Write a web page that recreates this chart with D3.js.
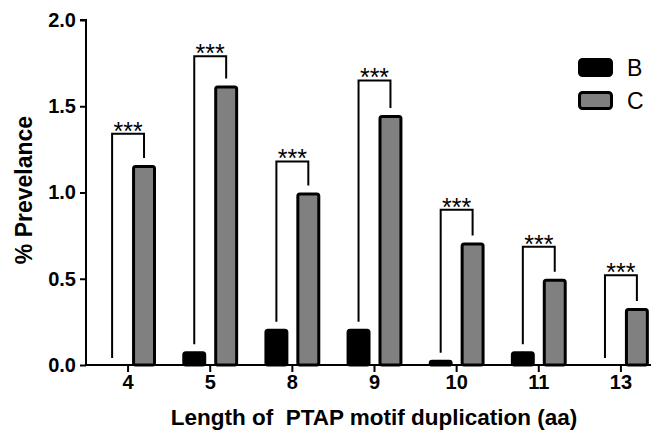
<!DOCTYPE html>
<html>
<head>
<meta charset="utf-8">
<style>
    body { margin: 0; background: #fff; }
    svg { display: block; font-family: "Liberation Sans", Arial, sans-serif; }
</style>
</head>
<body>
<svg width="651" height="430"></svg>

<script src="https://d3js.org/d3.v7.min.js"></script>
<script>
    // values
    const lengths = ["4", "5", "8", "9", "10", "11", "13"];
    const seriesNames = ["B", "C"];
    const valuesB = [0, 0.08, 0.21, 0.21, 0.03, 0.08, 0];
    const valuesC = [1.16, 1.62, 1.00, 1.45, 0.71, 0.50, 0.33];
    const bracketTops = [1.34, 1.79, 1.18, 1.65, 0.90, 0.685, 0.52];
    const yTicks = [0, 0.5, 1.0, 1.5, 2.0];

    const svg = d3.select("svg");

    const x = d3.scaleBand()
        .domain(lengths)
        .range([87, 662])
        .paddingInner(0.32)
        .paddingOuter(0.16);

    const xs = d3.scaleBand()
        .domain(seriesNames)
        .range([0, x.bandwidth()])
        .paddingInner(0.25);

    const y = d3.scaleLinear()
        .domain([0, 2])
        .range([365, 20]);

    const fills = { B: "#000", C: "#808080" };

    // rows for bars
    let rows = [];
    lengths.forEach((l, i) => {
        rows.push({ len: l, s: "B", v: valuesB[i] });
        rows.push({ len: l, s: "C", v: valuesC[i] });
    });

    svg.selectAll(".bar")
        .data(rows.filter(d => d.v > 0))
        .join("rect")
        .attr("class", "bar")
        .attr("x", d => x(d.len) + xs(d.s) + 1.5)
        .attr("width", xs.bandwidth() - 3)
        .attr("y", d => y(d.v) + 1.5)
        .attr("height", d => y(0) - y(d.v) - 1.5)
        .attr("rx", 2)
        .style("fill", d => fills[d.s])
        .style("stroke", "#000")
        .style("stroke-width", 3);

    // significance brackets
    const gap = 7;
    const brackets = svg.selectAll(".bracket")
        .data(lengths.map((l, i) => ({ len: l, b: valuesB[i], c: valuesC[i], top: bracketTops[i] })))
        .join("g")
        .attr("class", "bracket");

    brackets.append("path")
        .attr("d", d => {
            let x1 = x(d.len) + xs("B") + xs.bandwidth() / 2;
            let x2 = x(d.len) + xs("C") + xs.bandwidth() / 2;
            let yt = y(d.top);
            return "M" + x1 + "," + (y(d.b) - gap) + "V" + yt + "H" + x2 + "V" + (y(d.c) - gap);
        })
        .style("fill", "none")
        .style("stroke", "#000")
        .style("stroke-width", 2);

    brackets.append("text")
        .attr("x", d => x(d.len) + x.bandwidth() / 2)
        .attr("y", d => y(d.top) + 6)
        .attr("text-anchor", "middle")
        .style("font-size", "25px")
        .text("***");

    // axes
    const yAxis = svg.append("g")
        .attr("transform", "translate(86,0)")
        .call(d3.axisLeft(y).tickValues(yTicks).tickFormat(d3.format(".1f")).tickSize(6).tickPadding(4));

    const xAxis = svg.append("g")
        .attr("transform", "translate(0,365)")
        .call(d3.axisBottom(x).tickSize(7).tickSizeOuter(0).tickPadding(3));

    [yAxis, xAxis].forEach(a => {
        a.select(".domain").style("stroke-width", 2);
        a.selectAll(".tick line").style("stroke-width", 2);
        a.selectAll(".tick text")
            .style("font-family", "'Liberation Sans', Arial, sans-serif")
            .style("font-size", "20px")
            .style("font-weight", "bold")
            .style("fill", "#000");
    });
    xAxis.select(".domain").attr("d", "M86,0H662");
    yAxis.select(".domain").attr("d", "M0,365V20H-6");

    // axis titles
    svg.append("text")
        .attr("transform", "translate(32,190) rotate(-90)")
        .attr("text-anchor", "middle")
        .style("font-size", "23px")
        .style("font-weight", "bold")
        .text("% Prevelance");

    svg.append("text")
        .attr("x", 374)
        .attr("y", 425)
        .attr("text-anchor", "middle")
        .style("font-size", "22.5px")
        .style("font-weight", "bold")
        .style("white-space", "pre")
        .text("Length of  PTAP motif duplication (aa)");

    // legend
    const legend = svg.selectAll(".legend")
        .data(seriesNames)
        .join("g")
        .attr("class", "legend")
        .attr("transform", (d, i) => "translate(578," + (58 + i * 33) + ")");

    legend.append("rect")
        .attr("x", 1.5)
        .attr("y", 1.5)
        .attr("width", 32)
        .attr("height", 16)
        .attr("rx", 3)
        .style("fill", d => fills[d])
        .style("stroke", "#000")
        .style("stroke-width", 3);

    legend.append("text")
        .attr("x", 49)
        .attr("y", 18)
        .style("font-size", "23px")
        .text(d => d);
</script>
</body>
</html>
